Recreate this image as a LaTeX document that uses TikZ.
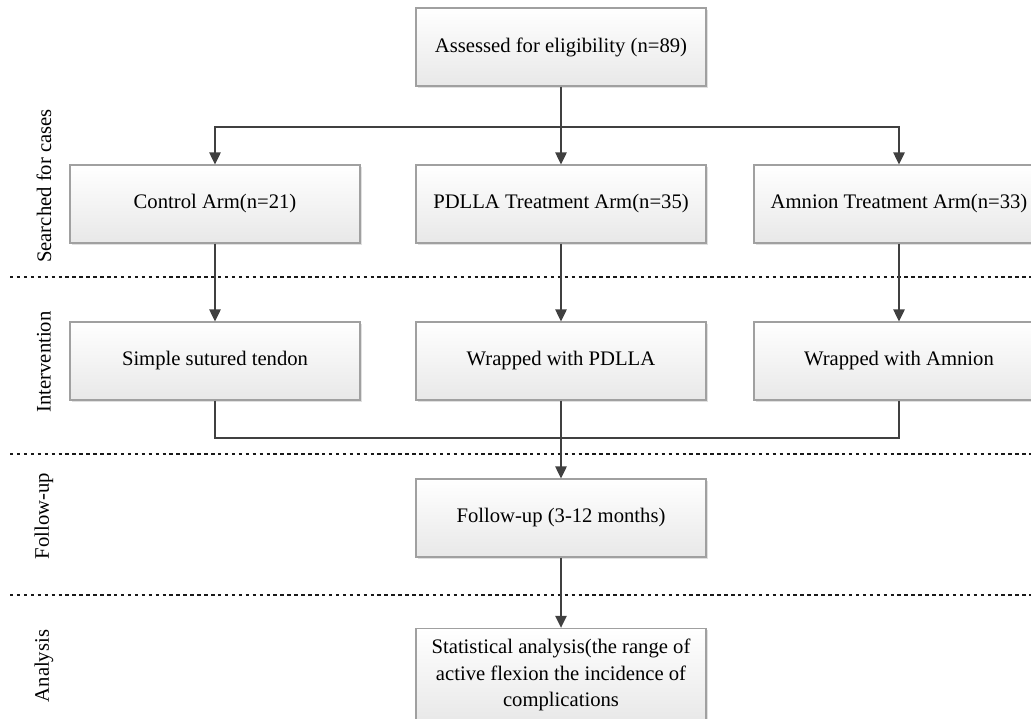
\documentclass[tikz,border=0pt]{standalone}
\usepackage{fontspec}
\setmainfont{Liberation Serif}
\usetikzlibrary{arrows.meta,shadows}
\definecolor{linegray}{HTML}{404040}
\definecolor{framegray}{HTML}{A0A0A0}
\tikzset{
	armbox/.style={draw=framegray, line width=0.8pt, top color=white, bottom color=black!9,
		minimum width=217.5pt, minimum height=58.5pt, inner sep=2pt, align=center,
		font=\fontsize{15.5}{20}\selectfont,
		drop shadow={shadow xshift=1.6pt, shadow yshift=-1.6pt, fill=black!20, opacity=0.6}},
	flow/.style={draw=linegray, line width=1.1pt, -{Triangle[length=9pt,width=8.5pt]}},
	link/.style={draw=linegray, line width=1.1pt},
	phase/.style={draw=black!90, line width=1pt, dash pattern=on 2.6pt off 2.6pt},
	stage/.style={rotate=90, font=\fontsize{15.5}{18}\selectfont}
}
\begin{document}
\begin{tikzpicture}[x=0.75pt,y=-0.75pt]
	\useasboundingbox (0,0) rectangle (1031,718);
	% phase separators
	\draw[phase] (10,277) -- (1031,277);
	\draw[phase] (10,454) -- (1031,454);
	\draw[phase] (10,595) -- (1031,595);
	\node[stage] (s1) at (44,186) {Searched for cases};
	\node[stage] (s2) at (44,362) {Intervention};
	\node[stage] (s3) at (44,516) {Follow-up};
	\node[stage] (s4) at (44,666) {Analysis};
	% boxes
	\node[armbox] (elig) at (561,47) {Assessed for eligibility (n=89)};
	\node[armbox] (ctrl) at (215,204) {Control Arm(n=21)};
	\node[armbox] (pdlla) at (561,204) {PDLLA Treatment Arm(n=35)};
	\node[armbox] (amn) at (899,204) {Amnion Treatment Arm(n=33)};
	\node[armbox] (suture) at (215,361) {Simple sutured tendon};
	\node[armbox] (wrapP) at (561,361) {Wrapped with PDLLA};
	\node[armbox] (wrapA) at (899,361) {Wrapped with Amnion};
	\node[armbox] (fup) at (561,518) {Follow-up (3-12 months)};
	\node[armbox, minimum height=70pt] (stat) at (561,675)
		{Statistical analysis(the range of\\active flexion the incidence of\\complications};
	% connectors
	\coordinate (split) at (561,127);
	\coordinate (merge) at (561,438);
	\draw[link] (elig.south) -- (split);
	\draw[flow] (split) -| (ctrl.north);
	\draw[flow] (split) -| (amn.north);
	\draw[flow] (split) -- (pdlla.north);
	\draw[flow] (ctrl.south) -- (suture.north);
	\draw[flow] (pdlla.south) -- (wrapP.north);
	\draw[flow] (amn.south) -- (wrapA.north);
	\draw[link] (suture.south) |- (merge) -| (wrapA.south);
	\draw[flow] (wrapP.south) -- (fup.north);
	\draw[flow] (fup.south) -- (stat.north);
\end{tikzpicture}
\end{document}
